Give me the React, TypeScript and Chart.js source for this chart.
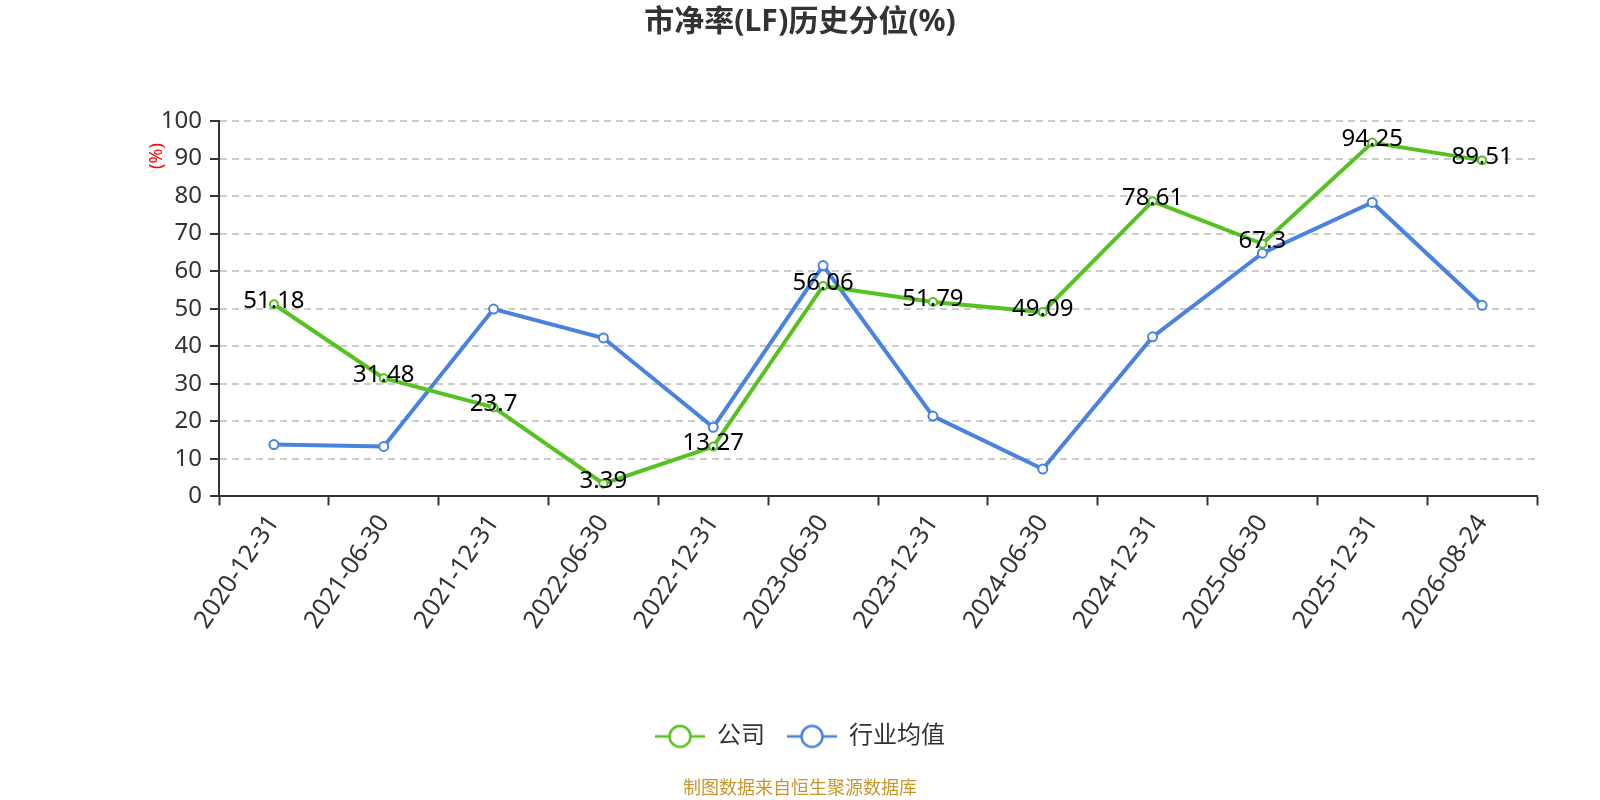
import {Chart, registerables, Plugin} from 'chart.js';
import React, {useEffect, useRef} from 'react';

Chart.register(...registerables);

const dates = [
    '2020-12-31', '2021-06-30', '2021-12-31', '2022-06-30', '2022-12-31', '2023-06-30',
    '2023-12-31', '2024-06-30', '2024-12-31', '2025-06-30', '2025-12-31', '2026-08-24',
];
const companyValues = [51.18, 31.48, 23.7, 3.39, 13.27, 56.06, 51.79, 49.09, 78.61, 67.3, 94.25, 89.51];
const industryValues = [13.8, 13.3, 49.9, 42.2, 18.4, 61.5, 21.4, 7.3, 42.5, 64.8, 78.3, 50.9];
const yTicks = [0, 10, 20, 30, 40, 50, 60, 70, 80, 90, 100];

const GREEN = '#56c21f';
const BLUE = '#4a82e0';
const FONT = '"Noto Sans", "Noto Sans CJK SC", sans-serif';

// legend marker: short line with a hollow circle on it
const legendIcon = (color: string): HTMLCanvasElement => {
    const c = document.createElement('canvas');
    c.width = 50;
    c.height = 26;
    const ctx = c.getContext('2d')!;
    ctx.strokeStyle = color;
    ctx.lineWidth = 2.5;
    ctx.beginPath();
    ctx.moveTo(0, 13);
    ctx.lineTo(50, 13);
    ctx.stroke();
    ctx.beginPath();
    ctx.arc(25, 13, 10.5, 0, Math.PI * 2);
    ctx.fillStyle = '#fff';
    ctx.fill();
    ctx.stroke();
    return c;
};

// value labels on the company line + the red "(%)" axis name
const extraText: Plugin<'line'> = {
    id: 'extraText',
    afterDatasetsDraw(chart) {
        const {ctx} = chart;
        const meta = chart.getDatasetMeta(0);
        ctx.save();
        ctx.font = `24px ${FONT}`;
        ctx.fillStyle = '#000';
        ctx.textAlign = 'center';
        ctx.textBaseline = 'middle';
        meta.data.forEach((pt, i) => {
            ctx.fillText(String(companyValues[i]), pt.x, pt.y - 3);
        });
        ctx.translate(157, 156);
        ctx.rotate(-Math.PI / 2);
        ctx.font = `18px ${FONT}`;
        ctx.fillStyle = 'red';
        ctx.fillText('(%)', 0, 0);
        ctx.restore();
    },
};

export default function App() {
    const canvasRef = useRef<HTMLCanvasElement>(null);

    useEffect(() => {
        if (!canvasRef.current) return;
        const icons = [legendIcon(GREEN), legendIcon(BLUE)];
        const chart = new Chart(canvasRef.current, {
            type: 'line',
            data: {
                labels: dates,
                datasets: [
                    {
                        label: '公司',
                        data: companyValues,
                        borderColor: GREEN,
                        backgroundColor: '#fff',
                        borderWidth: 4,
                        pointRadius: 4,
                        pointBorderWidth: 2,
                        pointBackgroundColor: '#fff',
                        pointBorderColor: GREEN,
                        tension: 0,
                    },
                    {
                        label: '行业均值',
                        data: industryValues,
                        borderColor: BLUE,
                        backgroundColor: '#fff',
                        borderWidth: 4,
                        pointRadius: 4.5,
                        pointBorderWidth: 2,
                        pointBackgroundColor: '#fff',
                        pointBorderColor: BLUE,
                        tension: 0,
                    },
                ],
            },
            options: {
                animation: false,
                responsive: false,
                devicePixelRatio: 1,
                layout: {padding: 0},
                scales: {
                    x: {
                        offset: true,
                        afterFit: (axis) => {
                            axis.height = 206;
                            axis.paddingLeft = 0;
                            axis.paddingRight = 63;
                        },
                        grid: {
                            offset: true,
                            drawOnChartArea: false,
                            drawTicks: true,
                            tickLength: 9,
                            tickColor: '#333',
                            tickWidth: 2,
                        },
                        border: {color: '#333', width: 2},
                        ticks: {
                            color: '#333',
                            font: {family: FONT, size: 25},
                            minRotation: 56,
                            maxRotation: 56,
                            autoSkip: false,
                            padding: 4,
                        },
                    },
                    y: {
                        min: 0,
                        max: 100,
                        afterFit: (axis) => {
                            axis.width = 219;
                        },
                        afterBuildTicks: (axis) => {
                            axis.ticks = yTicks.map((v) => ({value: v}));
                        },
                        grid: {
                            color: '#cccccc',
                            lineWidth: 2,
                            tickLength: 9,
                            tickColor: '#333',
                            tickWidth: 2,
                            tickBorderDash: [],
                        },
                        border: {color: '#333', width: 2, dash: [7, 5]},
                        ticks: {
                            color: '#333',
                            font: {family: FONT, size: 24},
                            padding: 8,
                        },
                    },
                },
                plugins: {
                    title: {
                        display: true,
                        text: '市净率(LF)历史分位(%)',
                        color: '#333',
                        font: {family: FONT, size: 30, weight: 'bold'},
                        padding: {top: 4, bottom: 81},
                    },
                    subtitle: {
                        display: true,
                        position: 'bottom',
                        text: '制图数据来自恒生聚源数据库',
                        color: '#c8962c',
                        font: {family: FONT, size: 18},
                        padding: {top: 20, bottom: 0},
                    },
                    legend: {
                        position: 'bottom',
                        labels: {
                            usePointStyle: true,
                            pointStyleWidth: 50,
                            color: '#333',
                            font: {family: FONT, size: 24},
                            padding: 22,
                            generateLabels: (chart) =>
                                chart.data.datasets.map((ds, i) => ({
                                    text: ds.label as string,
                                    pointStyle: icons[i],
                                    fillStyle: '#fff',
                                    strokeStyle: ds.borderColor as string,
                                    lineWidth: 0,
                                    hidden: false,
                                    datasetIndex: i,
                                    fontColor: '#333',
                                })),
                        },
                    },
                    tooltip: {enabled: false},
                },
            },
            plugins: [extraText],
        });
        return () => {
            chart.destroy();
        };
    }, []);

    return (
        <div style={{position: 'fixed', left: 0, top: 0, width: 1600, height: 800, background: '#fff'}}>
            <canvas ref={canvasRef} width={1600} height={800}
                    style={{display: 'block', width: '1600px', height: '800px'}}/>
        </div>
    );
}
